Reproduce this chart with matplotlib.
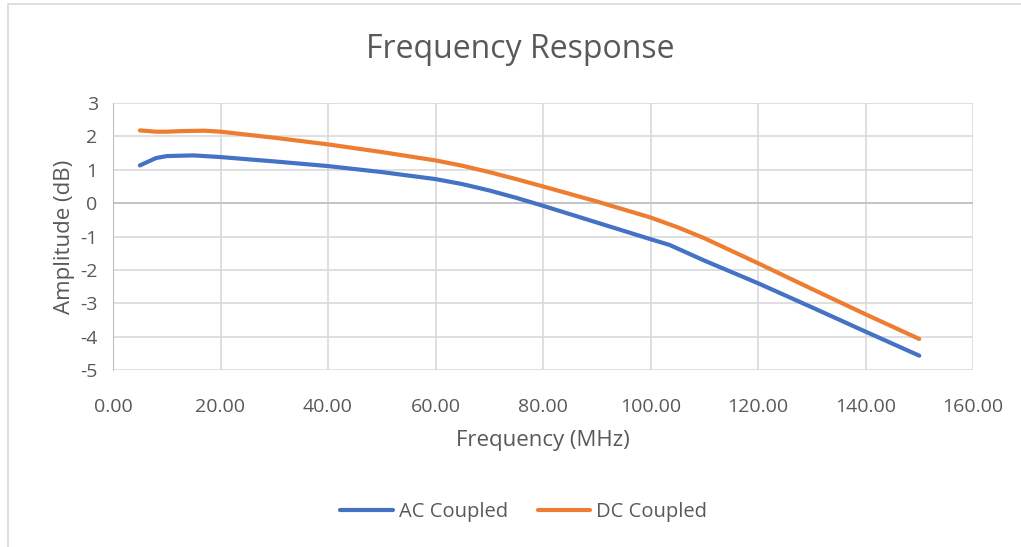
import matplotlib.pyplot as plt
from matplotlib.patches import Rectangle

plt.rcParams['font.family'] = ['Open Sans', 'DejaVu Sans']
plt.rcParams['axes.unicode_minus'] = False

# values
freq_ac = [5, 8, 10, 15, 20, 30, 40, 50, 60, 65, 70, 75, 80, 90, 100, 103.5, 110, 120, 130, 140, 150]
amp_ac = [1.13, 1.35, 1.41, 1.43, 1.38, 1.25, 1.11, 0.93, 0.72, 0.57, 0.38, 0.16, -0.08,
          -0.58, -1.08, -1.25, -1.72, -2.40, -3.12, -3.85, -4.57]
freq_dc = [5, 8, 10, 13, 17, 20, 30, 40, 50, 60, 65, 70, 75, 80, 90, 100, 105, 110, 120, 130, 140, 150]
amp_dc = [2.18, 2.14, 2.14, 2.16, 2.17, 2.14, 1.96, 1.76, 1.53, 1.28, 1.12, 0.93, 0.72, 0.50,
          0.05, -0.43, -0.72, -1.05, -1.80, -2.57, -3.33, -4.07]
xticks = [0, 20, 40, 60, 80, 100, 120, 140, 160]
yticks = [3, 2, 1, 0, -1, -2, -3, -4, -5]

txt = '#595959'
grid = '#d9d9d9'

fig = plt.figure(figsize=(10.21, 5.47), dpi=100)
fig.patches.append(Rectangle((8 / 1021, -0.1), 1.2, 1 - 4 / 547 + 0.1, transform=fig.transFigure,
                             fill=False, edgecolor='#d9d9d9', linewidth=1.2))
ax = fig.add_axes([113 / 1021, 1 - 370 / 547, (973 - 113) / 1021, (370 - 103) / 547])

ax.plot(freq_ac, amp_ac, color='#4472c4', lw=3, solid_capstyle='round', label='AC Coupled')
ax.plot(freq_dc, amp_dc, color='#ed7d31', lw=3, solid_capstyle='round', label='DC Coupled')

ax.set_xlim(0, 160)
ax.set_ylim(-5, 3)
ax.set_xticks(xticks)
ax.set_xticklabels(['%.2f' % v for v in xticks])
ax.set_yticks(yticks)
ax.grid(True, color=grid, lw=1.2)
ax.set_axisbelow(True)
ax.axhline(0, color='#bfbfbf', lw=1.2, zorder=1)
for s in ax.spines.values():
    s.set_visible(False)
ax.spines['left'].set_visible(True)
ax.spines['left'].set_color('#bfbfbf')
ax.tick_params(length=0, labelsize=14, colors=txt)
ax.tick_params(axis='x', pad=20)
ax.tick_params(axis='y', pad=11)

ax.set_xlabel('Frequency (MHz)', fontsize=16, color=txt, labelpad=10)
ax.set_ylabel('Amplitude (dB)', fontsize=16, color=txt, labelpad=4)
fig.text(0.51, 1 - 49 / 547, 'Frequency Response', ha='center', va='center', fontsize=23, color=txt)

fig.legend(loc='center', bbox_to_anchor=(0.513, 1 - 512 / 547), ncol=2, frameon=False,
           fontsize=14.5, labelcolor=txt, handlelength=2.6, columnspacing=1.5, handletextpad=0.3)

fig.savefig('out.png', dpi=100)
